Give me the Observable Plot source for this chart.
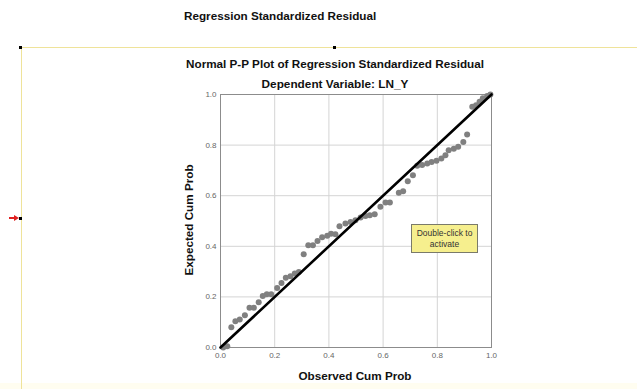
<!DOCTYPE html>
<html><head><meta charset="utf-8">
<script src="https://cdn.jsdelivr.net/npm/d3@7"></script>
<script src="https://cdn.jsdelivr.net/npm/@observablehq/plot@0.6"></script>
<style>
body{margin:0;background:#fff;font-family:"Liberation Sans",Arial,sans-serif;}
#wrap{position:relative;width:637px;height:389px;overflow:hidden;}
.t{position:absolute;white-space:nowrap;font-weight:bold;color:#111;}
.h{position:absolute;background:#000;width:3px;height:3px;}
</style></head><body>
<div id="wrap"></div>
<script>
const observed = [0.010,0.025,0.040,0.055,0.071,0.090,0.107,0.123,0.141,0.156,0.171,0.187,0.209,0.225,0.241,0.258,0.274,0.289,0.307,0.324,0.341,0.358,0.375,0.394,0.408,0.424,0.439,0.461,0.480,0.498,0.517,0.535,0.551,0.569,0.590,0.609,0.625,0.658,0.674,0.691,0.710,0.726,0.744,0.763,0.779,0.797,0.815,0.830,0.842,0.861,0.877,0.896,0.910,0.929,0.943,0.956,0.968,0.984,0.996];
const expected = [0.000,0.005,0.080,0.104,0.111,0.127,0.157,0.157,0.179,0.204,0.210,0.210,0.235,0.255,0.276,0.282,0.292,0.298,0.369,0.404,0.404,0.421,0.436,0.442,0.450,0.448,0.479,0.490,0.496,0.503,0.514,0.520,0.523,0.527,0.556,0.573,0.573,0.612,0.618,0.657,0.681,0.718,0.721,0.727,0.733,0.738,0.747,0.760,0.780,0.786,0.793,0.812,0.842,0.952,0.958,0.971,0.985,0.994,1.000];
const ticks = [0,0.2,0.4,0.6,0.8,1.0];
const refLine = [0,1];

const pts = observed.map((x,i)=>({x, y: expected[i]}));
const diag = refLine.map(v=>({x:v,y:v}));

const chart = Plot.plot({
  width: 637, height: 389,
  marginLeft: 220, marginRight: 146, marginTop: 94, marginBottom: 42,
  x: {domain:[0,1]}, y: {domain:[0,1]},
  style: {fontFamily: '"Liberation Sans", Arial, sans-serif', background: "transparent"},
  marks: [
    Plot.gridX(ticks, {stroke:"#d4d4d4", strokeOpacity:1}),
    Plot.gridY(ticks, {stroke:"#d4d4d4", strokeOpacity:1}),
    Plot.frame({stroke:"#8c8c8c"}),
    Plot.axisX(ticks, {tickSize:0, tickPadding:5, tickFormat:d3.format(".1f"), fontSize:8, fill:"#666", label:null}),
    Plot.axisY(ticks, {tickSize:0, tickPadding:4, tickFormat:d3.format(".1f"), fontSize:8, fill:"#666", label:null}),
    Plot.dot(pts, {x:"x", y:"y", r:3, fill:"#808080", stroke:"none"}),
    Plot.line(diag, {x:"x", y:"y", stroke:"#000", strokeWidth:2.6})
  ]
});
const wrap = document.getElementById("wrap");
wrap.insertAdjacentHTML("beforeend", `
<div style="position:absolute;left:0;top:383px;width:637px;height:6px;background:#fffdf0"></div>
<div style="position:absolute;left:21px;top:47px;width:616px;height:1px;background:#efe39a"></div>
<div style="position:absolute;left:21px;top:47px;width:1px;height:342px;background:#efe39a"></div>
`);
chart.style.position="absolute"; chart.style.left="0"; chart.style.top="0";
wrap.appendChild(chart);
wrap.insertAdjacentHTML("beforeend", `
<div class="h" style="left:19px;top:46px"></div>
<div class="h" style="left:333px;top:46px"></div>
<div class="h" style="left:19px;top:217px"></div>
<div style="position:absolute;left:9px;top:217px;width:7px;height:2px;background:#e02020"></div>
<div style="position:absolute;left:14px;top:215px;width:0;height:0;border-top:3px solid transparent;border-bottom:3px solid transparent;border-left:5px solid #e02020"></div>
<div class="t" style="left:184px;top:9px;font-size:11.7px">Regression Standardized Residual</div>
<div class="t" style="left:335px;top:57px;font-size:11.7px;transform:translateX(-50%)">Normal P-P Plot of Regression Standardized Residual</div>
<div class="t" style="left:335px;top:77px;font-size:11.8px;transform:translateX(-50%)">Dependent Variable: LN_Y</div>
<div class="t" style="left:355px;top:369px;font-size:11.7px;transform:translateX(-50%)">Observed Cum Prob</div>
<div class="t" style="left:188px;top:220px;font-size:11.7px;transform:translate(-50%,-50%) rotate(-90deg)">Expected Cum Prob</div>
<div style="position:absolute;left:411px;top:224px;width:67px;height:29px;background:#f6ef8e;border:1px solid #7a7a6a;font-size:8.5px;color:#333;text-align:center;line-height:11px;padding-top:3px;box-sizing:border-box">Double-click to<br>activate</div>
`);
</script>
</body></html>
